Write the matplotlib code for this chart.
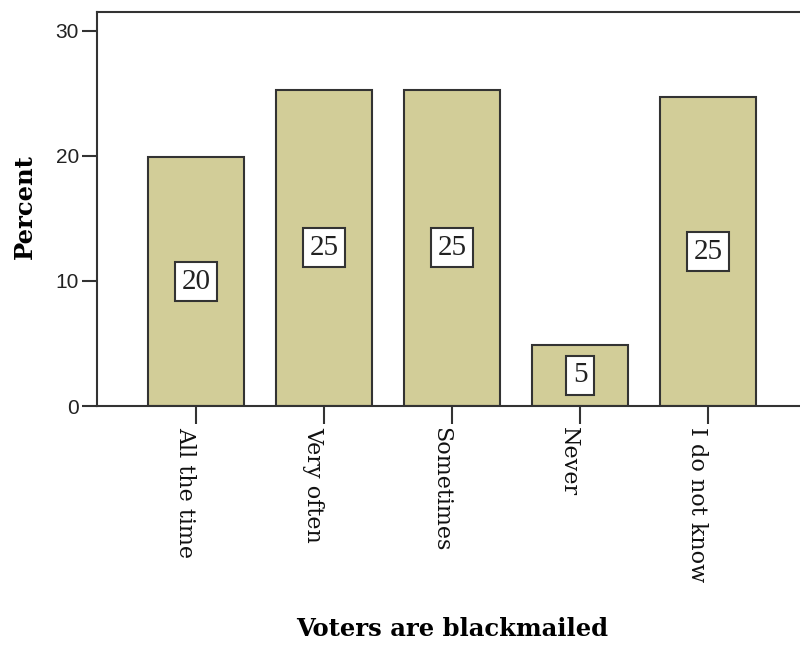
import matplotlib
matplotlib.use('Agg')
import matplotlib.pyplot as plt
from matplotlib.transforms import ScaledTranslation

# data
categories = ['All the time', 'Very often', 'Sometimes', 'Never', 'I do not know']
percent = [19.9, 25.3, 25.3, 4.9, 24.7]
bar_labels = ['20', '25', '25', '5', '25']

BAR_COLOUR = '#d2cd98'
LINE = '#333333'

fig = plt.figure(figsize=(8, 6.49), dpi=100)
ax = fig.add_axes([97 / 800, 243 / 649, 710 / 800, 394 / 649])

x = list(range(len(categories)))
ax.bar(x, percent, width=0.75, color=BAR_COLOUR, edgecolor=LINE, linewidth=1.5, zorder=2)

# value boxes in the middle of each bar
for xi, v, lab in zip(x, percent, bar_labels):
    ax.text(xi, v / 2, lab, ha='center', va='center', fontsize=21,
            family='Liberation Serif', color='#222222', zorder=3,
            bbox=dict(boxstyle='square,pad=0.22', facecolor='white', edgecolor=LINE, linewidth=1.5))

ax.set_xlim(-0.773, 4.773)
ax.set_ylim(0, 31.5)
ax.set_yticks([0, 10, 20, 30])
ax.set_xticks(x)
ax.set_xticklabels(categories, rotation=-90, family='DejaVu Serif', fontsize=16,
                   va='top', ha='right', color='#111111')
# nudge the rotated labels a little to the right, like the original
shift = ScaledTranslation(3 / 100, 0, fig.dpi_scale_trans)
for lab in ax.get_xticklabels():
    lab.set_transform(lab.get_transform() + shift)
for lab in ax.get_yticklabels():
    lab.set_family('Liberation Sans')
    lab.set_fontsize(15)
    lab.set_color('#222222')

ax.tick_params(axis='y', direction='out', length=11, width=1.5, color=LINE, pad=2)
ax.tick_params(axis='x', direction='out', length=13, width=1.5, color=LINE, pad=2)
for sp in ax.spines.values():
    sp.set_linewidth(1.5)
    sp.set_color(LINE)

ax.set_ylabel('Percent', family='DejaVu Serif', fontweight='bold', fontsize=17.5, va='center')
ax.yaxis.set_label_coords((25 - 97) / 710, (406 - 207) / 394)
ax.set_xlabel('Voters are blackmailed', family='DejaVu Serif', fontweight='bold', fontsize=17.5, va='top')
ax.xaxis.set_label_coords((452 - 97) / 710, -(617 - 406) / 394)

fig.savefig('out.png', dpi=100)
